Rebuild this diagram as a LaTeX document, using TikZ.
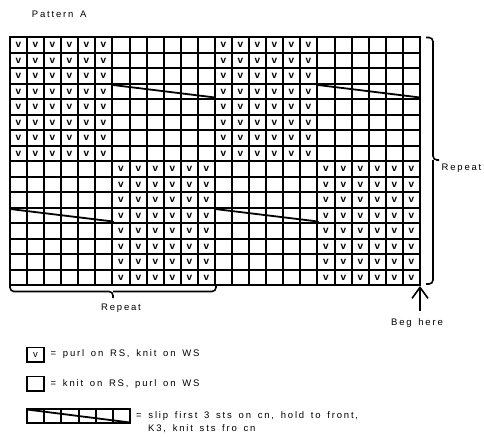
\documentclass[tikz,border=0pt]{standalone}
\usepackage{fontspec}
\setmainfont{Liberation Sans}[LetterSpace=19]
\newfontfamily\vfont{Liberation Sans}
\usetikzlibrary{arrows.meta}
\newcommand\lblfont{\fontsize{9.5}{11}\selectfont\spaceskip=\dimexpr\fontdimen2\font+2.3pt\relax}
\tikzset{
  gridline/.style={line width=1.6pt, line cap=rect},
  vmark/.style={inner sep=0pt, font=\vfont\bfseries\fontsize{10}{10}\selectfont},
  cable/.style={line width=1.8pt, line cap=round},
  brace/.style={line width=1.6pt, rounded corners=4pt},
  lbl/.style={inner sep=0pt, font=\lblfont},
  legbox/.style={draw, line width=1.8pt, minimum width=17pt, minimum height=14.5pt, inner sep=0pt},
  arrowline/.style={line width=1.6pt, -{Straight Barb[length=11pt,width=16pt,line width=1.6pt]}}
}
\begin{document}
\begin{tikzpicture}[x=1pt,y=-1pt]
\useasboundingbox (0,0) rectangle (484,436);
\def\cw{17.0833}
\def\ch{15.5}
% title
\node[lbl, anchor=west] (title) at (31.7,14) {Pattern A};
% grid lines (snapped to whole pixels)
\foreach \i in {0,...,24} {
  \pgfmathsetmacro\gx{round(10+\i*\cw)}
  \draw[gridline] (\gx,37) -- (\gx,285);
}
\foreach \j in {0,...,16} {
  \pgfmathsetmacro\gy{round(37+\j*\ch)}
  \draw[gridline] (10,\gy) -- (420,\gy);
}
% purl marks
\foreach \r in {1,...,8}
  \foreach \c in {1,...,6,13,14,...,18} {
    \pgfmathsetmacro\vx{(round(10+(\c-1)*\cw)+round(10+\c*\cw))/2}
    \pgfmathsetmacro\vy{(round(37+(\r-1)*\ch)+round(37+\r*\ch))/2}
    \node[vmark] (v-\r-\c) at (\vx,\vy) {v};
  }
\foreach \r in {9,...,16}
  \foreach \c in {7,...,12,19,20,...,24} {
    \pgfmathsetmacro\vx{(round(10+(\c-1)*\cw)+round(10+\c*\cw))/2}
    \pgfmathsetmacro\vy{(round(37+(\r-1)*\ch)+round(37+\r*\ch))/2}
    \node[vmark] (v-\r-\c) at (\vx,\vy) {v};
  }
% cables
\draw[cable] (113,85) -- (215,97.5);
\draw[cable] (318,85) -- (420,97.5);
\draw[cable] (10,209) -- (113,221.5);
\draw[cable] (215,209) -- (318,221.5);
% right brace
\draw[brace] (426,37.5) -| (433,160) -- (439,160);
\draw[brace] (433,160) |- (426,284);
\node[lbl, anchor=west] (rep-right) at (441.5,168.5) {Repeat};
% bottom brace
\draw[brace] (10,285) |- (113,291.5) -- (113,298);
\draw[brace] (113,291.5) -| (216,285);
\node[lbl] (rep-bottom) at (121,308) {Repeat};
% start arrow
\coordinate (arrowtail) at (420,311);
\coordinate (arrowtip) at (420,286);
\draw[arrowline] (arrowtail) -- (arrowtip);
\node[lbl] (beg) at (417,323) {Beg here};
% legend
\node[legbox] (leg-purl) at (35.5,354.8) {\vfont\fontsize{9.5}{9.5}\selectfont v};
\node[lbl, anchor=west] (leg-purl-text) at (50.5,354.3) {= purl on RS, knit on WS};
\node[legbox] (leg-knit) at (35.5,383.7) {};
\node[lbl, anchor=west] (leg-knit-text) at (50.5,383.7) {= knit on RS, purl on WS};
% cable legend
\foreach \i in {0,...,5} {
  \pgfmathsetmacro\lx{round(27+\i*17.2)}
  \pgfmathsetmacro\rx{round(27+(\i+1)*17.2)}
  \draw[line width=1.6pt] (\lx,409) rectangle (\rx,423);
}
\draw[cable] (27,409.5) -- (130,422.5);
\node[lbl, anchor=west] (leg-cable-text) at (136,416.5) {= slip first 3 sts on cn, hold to front,};
\node[lbl, anchor=west] (leg-cable-text2) at (148,428.5) {K3, knit sts fro cn};
\end{tikzpicture}
\end{document}
